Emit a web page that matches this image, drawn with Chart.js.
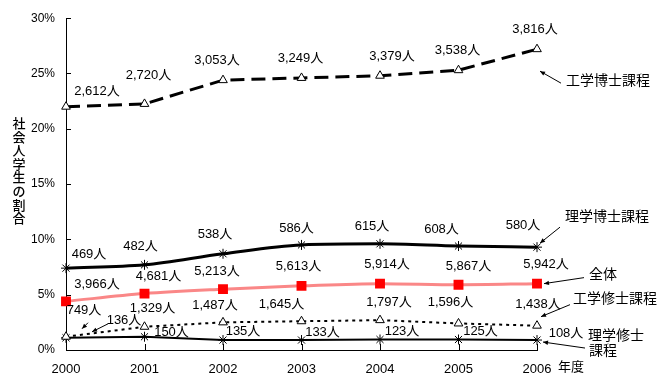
<!DOCTYPE html>
<html>
<head>
<meta charset="utf-8">
<script src="https://cdn.jsdelivr.net/npm/chart.js@4/dist/chart.umd.min.js"></script>
<style>
  html, body { margin: 0; padding: 0; background: #fff; }
  #wrap { width: 659px; height: 373px; }
</style>
</head>
<body>
<div id="wrap"><canvas id="chart" width="659" height="373"></canvas></div>
<script>
// data (share of working adults, %)
const years = ['2000', '2001', '2002', '2003', '2004', '2005', '2006'];
const engDoctor = [22.0, 22.25, 24.4, 24.6, 24.8, 25.3, 27.2];   // 工学博士課程
const sciDoctor = [7.4, 7.7, 8.7, 9.5, 9.6, 9.4, 9.3];            // 理学博士課程
const total = [4.4, 5.1, 5.5, 5.8, 6.0, 5.9, 6.0];                // 全体
const engMaster = [1.2, 2.1, 2.5, 2.6, 2.7, 2.4, 2.2];            // 工学修士課程
const sciMaster = [1.1, 1.2, 0.9, 0.9, 0.95, 0.95, 0.9];          // 理学修士課程

// head counts shown next to the points
const engDoctorN = [2612, 2720, 3053, 3249, 3379, 3538, 3816];
const sciDoctorN = [469, 482, 538, 586, 615, 608, 580];
const totalN = [3966, 4681, 5213, 5613, 5914, 5867, 5942];
const engMasterN = [749, 1329, 1487, 1645, 1797, 1596, 1438];
const sciMasterN = [136, 150, 135, 133, 123, 125, 108];

const yMin = 0, yMax = 30, yStep = 5;
const yTitle = '社会人学生の割合';
const xTitle = '年度';

const FONT = "'Liberation Sans', 'Noto Sans CJK JP', sans-serif";
const JP = "'Noto Sans CJK JP', sans-serif";

// label placement, relative to each point (px)
const labelOffsets = [
  [[31, -15], [4, -28], [-6, -20], [-1, -20], [12, -19], [-1, -20], [-2, -20]],
  [[23, -14], [-4, -18], [-8, -19], [-5, -17], [-8, -17], [-17, -17], [-14, -22]],
  [[31, -17], [14, -17], [-6, -18], [-3, -19], [7, -19], [10, -18], [9, -19]],
  [[18, -26], [8, -18], [-8, -17], [-20, -17], [9, -18], [-8, -21], [1, -21]],
  [[58, -17], [27, -4], [20, -9], [21, -8], [22, -8], [22, -8], [29, -7]]
];

// little arrows from labels to the first points
const firstArrows = [
  null, null, null,
  [[22, -14], [16, -8]],
  [[42, -14], [26, -6]]
];

// series names on the right, relative to the last point
const callouts = [
  { lines: ['工学博士課程'], at: [[71, 31]], from: [24, 34], to: [3, 22] },
  { lines: ['理学博士課程'], at: [[70, -31]], from: [23, -20], to: [3, -4] },
  { lines: ['全体'], at: [[66, -10]], from: [47, -6], to: [7, 0] },
  { lines: ['工学修士課程'], at: [[78, -28]], from: [33, -21], to: [4, -9] },
  { lines: ['理学修士', '課程'], at: [[79, -5], [66, 10]], from: [48, 8], to: [6, 2] }
];

const counts = [engDoctorN, sciDoctorN, totalN, engMasterN, sciMasterN];

function arrow(ctx, x1, y1, x2, y2) {
  ctx.beginPath();
  ctx.moveTo(x1, y1);
  ctx.lineTo(x2, y2);
  ctx.stroke();
  const a = Math.atan2(y2 - y1, x2 - x1);
  const len = 5, w = 2.2;
  ctx.beginPath();
  ctx.moveTo(x2, y2);
  ctx.lineTo(x2 - len * Math.cos(a) + w * Math.sin(a), y2 - len * Math.sin(a) - w * Math.cos(a));
  ctx.lineTo(x2 - len * Math.cos(a) - w * Math.sin(a), y2 - len * Math.sin(a) + w * Math.cos(a));
  ctx.closePath();
  ctx.fill();
}

const decorations = {
  id: 'decorations',
  afterDatasetsDraw(chart) {
    const ctx = chart.ctx;
    const xs = chart.scales.x, ys = chart.scales.y;
    const area = chart.chartArea;
    ctx.save();

    // inside tick marks
    ctx.strokeStyle = '#000';
    ctx.lineWidth = 1;
    ctx.beginPath();
    for (let v = yMin; v <= yMax; v += yStep) {
      const y = Math.round(ys.getPixelForValue(v)) + 0.5;
      ctx.moveTo(area.left, y);
      ctx.lineTo(area.left + 5, y);
    }
    years.forEach((_, i) => {
      const x = Math.round(xs.getPixelForValue(i)) + 0.5;
      ctx.moveTo(x, area.bottom);
      ctx.lineTo(x, area.bottom - 6);
    });
    ctx.stroke();

    // value labels
    ctx.fillStyle = '#000';
    ctx.font = '13px ' + FONT;
    ctx.textAlign = 'center';
    ctx.textBaseline = 'middle';
    counts.forEach((arr, d) => {
      const meta = chart.getDatasetMeta(d);
      arr.forEach((n, i) => {
        const p = meta.data[i];
        const o = labelOffsets[d][i];
        ctx.fillText(n.toLocaleString('en-US') + '人', p.x + o[0], p.y + o[1]);
      });
      const fa = firstArrows[d];
      if (fa) {
        const p = meta.data[0];
        arrow(ctx, p.x + fa[0][0], p.y + fa[0][1], p.x + fa[1][0], p.y + fa[1][1]);
      }
    });

    // series names
    ctx.font = '14px ' + JP;
    callouts.forEach((c, d) => {
      const meta = chart.getDatasetMeta(d);
      const p = meta.data[meta.data.length - 1];
      c.lines.forEach((t, k) => {
        ctx.fillText(t, p.x + c.at[k][0], p.y + c.at[k][1]);
      });
      arrow(ctx, p.x + c.from[0], p.y + c.from[1], p.x + c.to[0], p.y + c.to[1]);
    });

    // vertical y title
    ctx.font = '500 13px ' + JP;
    const chars = Array.from(yTitle);
    chars.forEach((ch, k) => {
      ctx.fillText(ch, 19, 123 + k * 13.6);
    });

    // 年度
    ctx.textAlign = 'left';
    ctx.textBaseline = 'top';
    ctx.font = '13px ' + JP;
    ctx.fillText(xTitle, xs.getPixelForValue(years.length - 1) + 21, 360);
    ctx.restore();
  }
};

Chart.defaults.font.family = FONT;
Chart.defaults.color = '#000';

new Chart(document.getElementById('chart'), {
  type: 'line',
  data: {
    labels: years,
    datasets: [
      {
        label: '工学博士課程', data: engDoctor,
        borderColor: '#000', borderWidth: 3, borderDash: [14, 7],
        pointStyle: 'triangle', pointRadius: 5, pointBackgroundColor: '#fff',
        pointBorderColor: '#000', pointBorderWidth: 1
      },
      {
        label: '理学博士課程', data: sciDoctor,
        borderColor: '#000', borderWidth: 3, cubicInterpolationMode: 'monotone',
        pointStyle: 'star', pointRadius: 5, pointBorderColor: '#000', pointBorderWidth: 1
      },
      {
        label: '全体', data: total,
        borderColor: 'rgb(250, 135, 135)', borderWidth: 3, cubicInterpolationMode: 'monotone',
        pointStyle: 'rect', pointRadius: 7, pointBackgroundColor: '#ff0000',
        pointBorderColor: '#ff0000', pointBorderWidth: 0
      },
      {
        label: '工学修士課程', data: engMaster,
        borderColor: '#000', borderWidth: 2, borderDash: [3, 4],
        pointStyle: 'triangle', pointRadius: 5, pointBackgroundColor: '#fff',
        pointBorderColor: '#000', pointBorderWidth: 1
      },
      {
        label: '理学修士課程', data: sciMaster,
        borderColor: '#000', borderWidth: 2,
        pointStyle: 'star', pointRadius: 5, pointBorderColor: '#000', pointBorderWidth: 1
      }
    ]
  },
  options: {
    responsive: false,
    animation: false,
    layout: { padding: { left: 0, top: 18, right: 122, bottom: 0 } },
    plugins: {
      legend: { display: false },
      tooltip: { enabled: false }
    },
    scales: {
      x: {
        offset: false,
        grid: { drawOnChartArea: false, drawTicks: false },
        border: { display: true, color: '#000', width: 1 },
        ticks: { padding: 12, font: { size: 13 }, maxRotation: 0 },
        afterFit(s) { s.height = 23; }
      },
      y: {
        min: yMin, max: yMax,
        grid: { drawOnChartArea: false, drawTicks: false },
        border: { display: true, color: '#000', width: 1 },
        ticks: { stepSize: yStep, padding: 11, font: { size: 12 }, callback: v => v + '%' },
        afterFit(s) { s.width = 66; }
      }
    }
  },
  plugins: [decorations]
});
</script>
</body>
</html>
